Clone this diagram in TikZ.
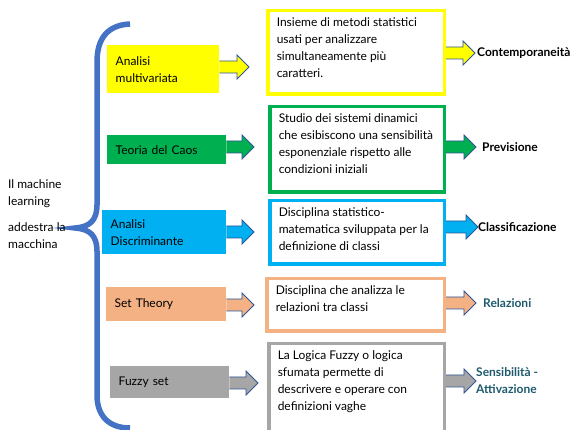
\documentclass[tikz,border=0pt]{standalone}
\usepackage{fontspec}
\setmainfont{Lato}
\usetikzlibrary{calc}

\definecolor{yellowbox}{HTML}{FFFF00}
\definecolor{greenbox}{HTML}{00B050}
\definecolor{cyanbox}{HTML}{00B0F0}
\definecolor{orangebox}{HTML}{F4B183}
\definecolor{graybox}{HTML}{A6A6A6}
\definecolor{arrowline}{HTML}{2F5597}
\definecolor{bracecol}{HTML}{4472C4}
\definecolor{labelteal}{HTML}{1E5A6E}

\newcommand{\basefont}{\fontsize{12pt}{17pt}\selectfont}
\newcommand{\rtext}[3]{\parbox[c][#2][t]{#1}{\raggedright #3}}

\tikzset{
	lbox/.style={fill=#1, anchor=north west, inner xsep=8.5pt, align=left},
	rbox/.style={draw=#1, line width=3.5pt, anchor=north west, inner xsep=9pt, inner ysep=6.5pt},
	outlabel/.style={anchor=west, inner sep=0pt, font=\basefont\bfseries},
	blockarrow/.style={draw=arrowline, line width=0.9pt, to path={
		let \p1=(\tikztostart), \p2=(\tikztotarget) in
		({\x1},{\y2+6pt}) -- ({\x2-12pt},{\y2+6pt}) -- ({\x2-12pt},{\y2+12pt}) -- (\p2)
		-- ({\x2-12pt},{\y2-12pt}) -- ({\x2-12pt},{\y2-6pt}) -- ({\x1},{\y2-6pt})}},
	brace/.style={draw=bracecol, line width=5.5pt}
}

\begin{document}
\begin{tikzpicture}[x=1pt, y=-1pt, font=\basefont]
	\path[use as bounding box, fill=white] (0,0) rectangle (574,430);
	\clip (0,0) rectangle (574,430);
	
	% Curly brace
	\draw[brace] (130,24) .. controls (108,25) and (97,38) .. (97,62) -- (97,205)
		.. controls (97,220) and (90,227) .. (75,228)
		.. controls (90,229) and (97,236) .. (97,251) -- (97,395)
		.. controls (97,415) and (108,428) .. (130,428);
	
	\node[anchor=west, inner sep=0pt, align=left] (ml) at (8,214)
		{Il machine\\learning\\[9pt]addestra la\\macchina};
	
	% Left boxes
	\node[lbox=yellowbox, text width=95pt, minimum height=48pt] (am) at (107,45) {Analisi\\multivariata};
	\node[lbox=greenbox, text width=102pt, minimum height=29pt] (tc) at (107,135) {Teoria del Caos};
	\node[lbox=cyanbox, text width=107pt, minimum height=44pt] (ad) at (102,210) {Analisi\\Discriminante};
	\node[lbox=orangebox, text width=103pt, minimum height=34pt] (st) at (106,287) {Set Theory};
	\node[lbox=graybox, text width=102pt, minimum height=32pt] (fs) at (110,366) {Fuzzy set};
	
	% Right boxes
	\node[rbox=yellowbox] (im) at (266,9) {\rtext{158.5pt}{70.5pt}{Insieme di metodi statistici\\usati per analizzare\\simultaneamente più\\caratteri.}};
	\node[rbox=greenbox] (sd) at (268,105) {\rtext{156.5pt}{72.5pt}{Studio dei sistemi dinamici\\che esibiscono una sensibilità\\esponenziale rispetto alle\\condizioni iniziali}};
	\node[rbox=cyanbox] (ds) at (268,199) {\rtext{156.5pt}{50.5pt}{Disciplina statistico-\\matematica sviluppata per la\\definizione di classi}};
	\node[rbox=orangebox] (dr) at (265,277) {\rtext{159.5pt}{39.5pt}{Disciplina che analizza le\\relazioni tra classi}};
	\node[rbox=graybox] (lf) at (267,342) {\rtext{157.5pt}{86.5pt}{La Logica Fuzzy o logica\\sfumata permette di\\descrivere e operare con\\definizioni vaghe}};
	
	% Output labels
	\node[outlabel] (cp) at (477,53) {Contemporaneità};
	\node[outlabel] (pv) at (482,147) {Previsione};
	\node[outlabel] (cl) at (478,227) {Classificazione};
	\node[outlabel, text=labelteal] (rl) at (483,303) {Relazioni};
	\node[outlabel, text=labelteal, align=left] (sa) at (476,381) {Sensibilità -\\Attivazione};
	
	% Arrow tips
	\coordinate (t1) at (249,67);
	\coordinate (t2) at (254,147);
	\coordinate (t3) at (254,232);
	\coordinate (t4) at (254,305);
	\coordinate (t5) at (258,383);
	
	% Block arrows
	\draw[blockarrow, fill=yellowbox] (am.east) to (t1);
	\draw[blockarrow, fill=greenbox] (tc.east) to (t2);
	\draw[blockarrow, fill=cyanbox] (ad.east) to (t3);
	\draw[blockarrow, fill=orangebox] (st.east) to (t4);
	\draw[blockarrow, fill=graybox] (fs.east) to (t5);
	
	\draw[blockarrow, fill=yellowbox] (im.east) to ([xshift=-2pt]cp.west);
	\draw[blockarrow, fill=greenbox] (sd.east) to ([xshift=-6pt]pv.west);
	\draw[blockarrow, fill=cyanbox] (ds.east) to (cl.west);
	\draw[blockarrow, fill=orangebox] (dr.east) to ([xshift=-7pt]rl.west);
	\draw[blockarrow, fill=graybox] (lf.east) to (sa.west);
\end{tikzpicture}
\end{document}
